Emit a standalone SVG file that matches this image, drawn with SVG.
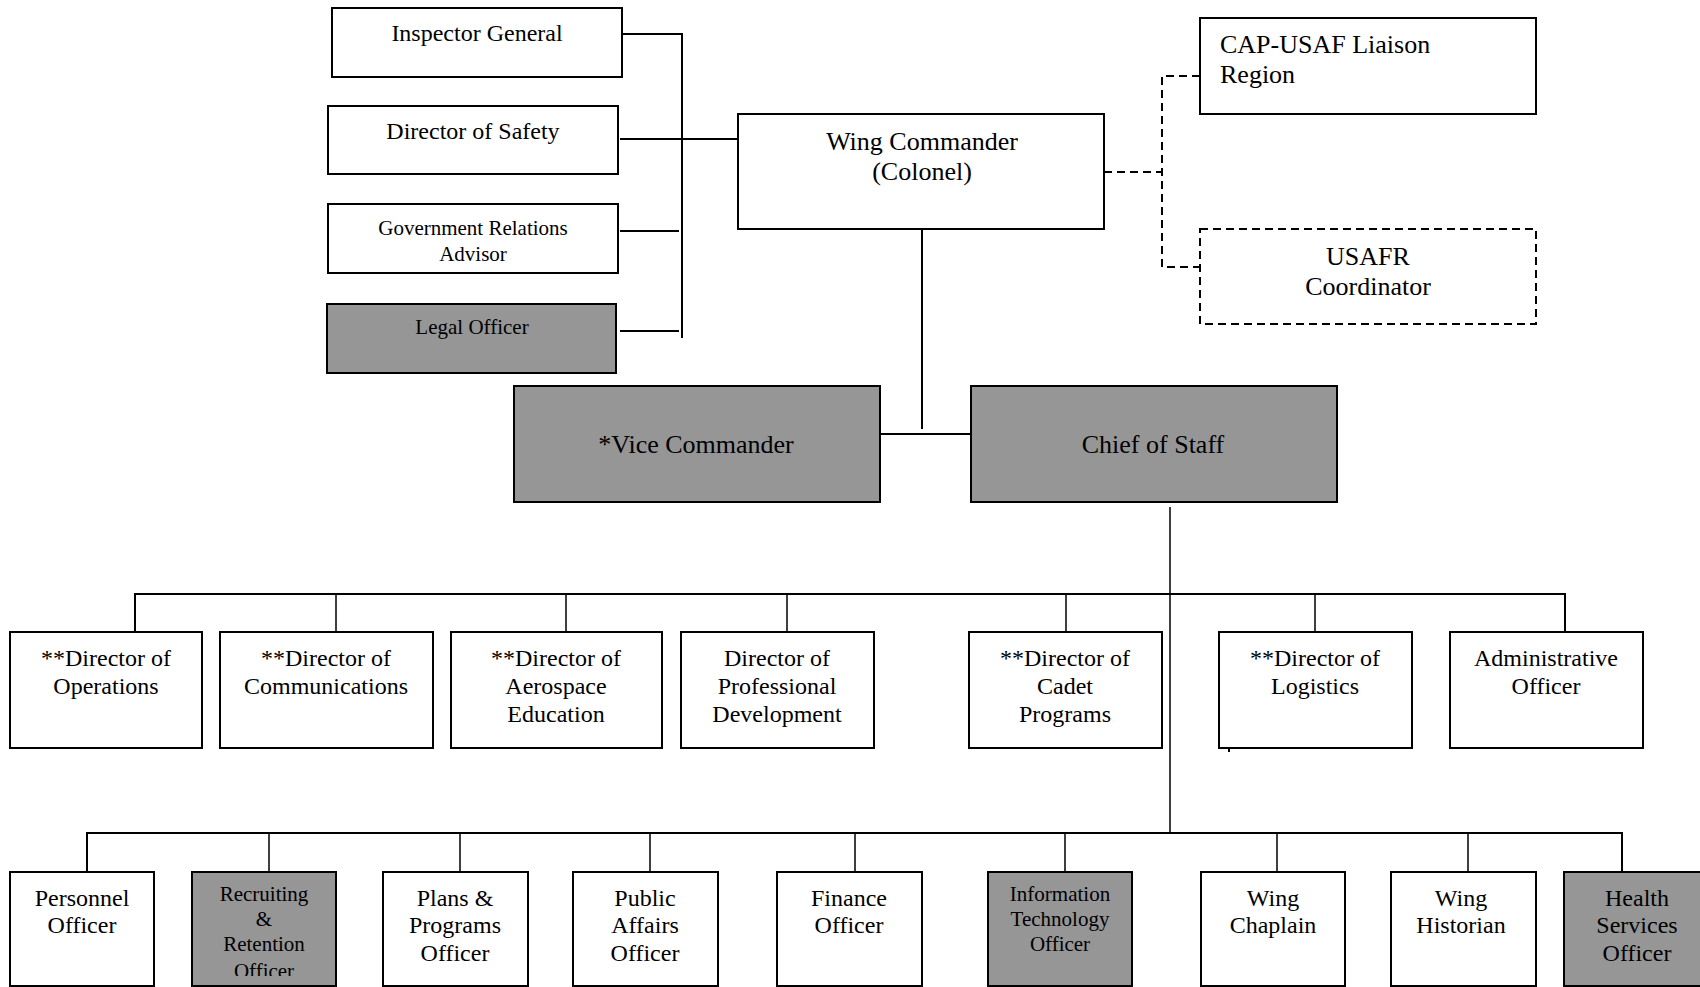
<svg xmlns="http://www.w3.org/2000/svg" width="1700" height="987" viewBox="0 0 1700 987">
<style>
text{font-family:"Liberation Serif","Times New Roman",serif;fill:#000;text-anchor:middle}
.f26{font-size:26px}.f24{font-size:24px}.f21{font-size:21px}
.box{fill:#fff;stroke:#000;stroke-width:2}
.gray{fill:#969696;stroke:#000;stroke-width:2}
.dbox{fill:#fff;stroke:#000;stroke-width:2;stroke-dasharray:8 5}
.ln{fill:none;stroke:#000;stroke-width:2}
.thin{fill:none;stroke:#000;stroke-width:1.5}
.dash{fill:none;stroke:#000;stroke-width:2;stroke-dasharray:8 5}
</style>
<defs>
<clipPath id="clipRec"><rect x="192" y="872" width="144" height="104"/></clipPath>
</defs>
<rect width="1700" height="987" fill="#fff"/>
<g id="connectors">
<path class="ln" d="M622 34H682V338"/>
<path class="ln" d="M620 139H738"/>
<path class="ln" d="M620 231H679"/>
<path class="ln" d="M620 331H679"/>
<path class="ln" d="M922 229V429"/>
<path class="ln" d="M875 434H971"/>
<path class="dash" d="M1104 172H1162"/>
<path class="dash" d="M1200 76H1162V267H1200"/>
<path class="thin" d="M1170 507V833"/>
<path class="ln" d="M135 632V594H1565V632"/>
<path class="thin" d="M336 594V632M566 594V632M787 594V632M1066 594V632M1315 594V632"/>
<path class="ln" d="M87 872V833H1622V872"/>
<path class="thin" d="M269 833V872M460 833V872M650 833V872M855 833V872M1065 833V872M1277 833V872M1468 833V872"/>
<path class="ln" d="M1229 748V752"/>
</g>
<g id="inspector-general"><rect class="box" x="332" y="8" width="290" height="69"/><text class="f24" x="477" y="41">Inspector General</text></g>
<g id="director-safety"><rect class="box" x="328" y="106" width="290" height="68"/><text class="f24" x="473" y="139">Director of Safety</text></g>
<g id="gov-relations"><rect class="box" x="328" y="204" width="290" height="69"/><text class="f21" x="473" y="235">Government Relations</text><text class="f21" x="473" y="261">Advisor</text></g>
<g id="legal-officer"><rect class="gray" x="327" y="304" width="289" height="69"/><text class="f21" x="472" y="334">Legal Officer</text></g>
<g id="wing-commander"><rect class="box" x="738" y="114" width="366" height="115"/><text class="f26" x="922" y="150">Wing Commander</text><text class="f26" x="922" y="180">(Colonel)</text></g>
<g id="cap-usaf"><rect class="box" x="1200" y="18" width="336" height="96"/><text class="f26" x="1220" y="53" style="text-anchor:start">CAP-USAF Liaison</text><text class="f26" x="1220" y="83" style="text-anchor:start">Region</text></g>
<g id="usafr"><rect class="dbox" x="1200" y="229" width="336" height="95"/><text class="f26" x="1368" y="265">USAFR</text><text class="f26" x="1368" y="295">Coordinator</text></g>
<g id="vice-commander"><rect class="gray" x="514" y="386" width="366" height="116"/><text class="f26" x="696" y="453">*Vice Commander</text></g>
<g id="chief-of-staff"><rect class="gray" x="971" y="386" width="366" height="116"/><text class="f26" x="1153" y="453">Chief of Staff</text></g>
<g id="dir-operations"><rect class="box" x="10" y="632" width="192" height="116"/><text class="f24" x="106" y="666">**Director of</text><text class="f24" x="106" y="694">Operations</text></g>
<g id="dir-communications"><rect class="box" x="220" y="632" width="213" height="116"/><text class="f24" x="326" y="666">**Director of</text><text class="f24" x="326" y="694">Communications</text></g>
<g id="dir-aerospace"><rect class="box" x="451" y="632" width="211" height="116"/><text class="f24" x="556" y="666">**Director of</text><text class="f24" x="556" y="694">Aerospace</text><text class="f24" x="556" y="722">Education</text></g>
<g id="dir-profdev"><rect class="box" x="681" y="632" width="193" height="116"/><text class="f24" x="777" y="666">Director of</text><text class="f24" x="777" y="694">Professional</text><text class="f24" x="777" y="722">Development</text></g>
<g id="dir-cadet"><rect class="box" x="969" y="632" width="193" height="116"/><text class="f24" x="1065" y="666">**Director of</text><text class="f24" x="1065" y="694">Cadet</text><text class="f24" x="1065" y="722">Programs</text></g>
<g id="dir-logistics"><rect class="box" x="1219" y="632" width="193" height="116"/><text class="f24" x="1315" y="666">**Director of</text><text class="f24" x="1315" y="694">Logistics</text></g>
<g id="admin-officer"><rect class="box" x="1450" y="632" width="193" height="116"/><text class="f24" x="1546" y="666">Administrative</text><text class="f24" x="1546" y="694">Officer</text></g>
<g id="personnel"><rect class="box" x="10" y="872" width="144" height="114"/><text class="f24" x="82" y="906">Personnel</text><text class="f24" x="82" y="933">Officer</text></g>
<g id="recruiting"><rect class="gray" x="192" y="872" width="144" height="114"/><g clip-path="url(#clipRec)"><text class="f21" x="264" y="901">Recruiting</text><text class="f21" x="264" y="926">&amp;</text><text class="f21" x="264" y="951">Retention</text><text class="f21" x="264" y="978">Officer</text></g></g>
<g id="plans"><rect class="box" x="383" y="872" width="145" height="114"/><text class="f24" x="455" y="906">Plans &amp;</text><text class="f24" x="455" y="933">Programs</text><text class="f24" x="455" y="961">Officer</text></g>
<g id="public-affairs"><rect class="box" x="573" y="872" width="145" height="114"/><text class="f24" x="645" y="906">Public</text><text class="f24" x="645" y="933">Affairs</text><text class="f24" x="645" y="961">Officer</text></g>
<g id="finance"><rect class="box" x="777" y="872" width="145" height="114"/><text class="f24" x="849" y="906">Finance</text><text class="f24" x="849" y="933">Officer</text></g>
<g id="info-tech"><rect class="gray" x="988" y="872" width="144" height="114"/><text class="f21" x="1060" y="901">Information</text><text class="f21" x="1060" y="926">Technology</text><text class="f21" x="1060" y="951">Officer</text></g>
<g id="chaplain"><rect class="box" x="1201" y="872" width="144" height="114"/><text class="f24" x="1273" y="906">Wing</text><text class="f24" x="1273" y="933">Chaplain</text></g>
<g id="historian"><rect class="box" x="1391" y="872" width="145" height="114"/><text class="f24" x="1461" y="906">Wing</text><text class="f24" x="1461" y="933">Historian</text></g>
<g id="health"><rect class="gray" x="1564" y="872" width="146" height="114"/><text class="f24" x="1637" y="906">Health</text><text class="f24" x="1637" y="933">Services</text><text class="f24" x="1637" y="961">Officer</text></g>
</svg>
